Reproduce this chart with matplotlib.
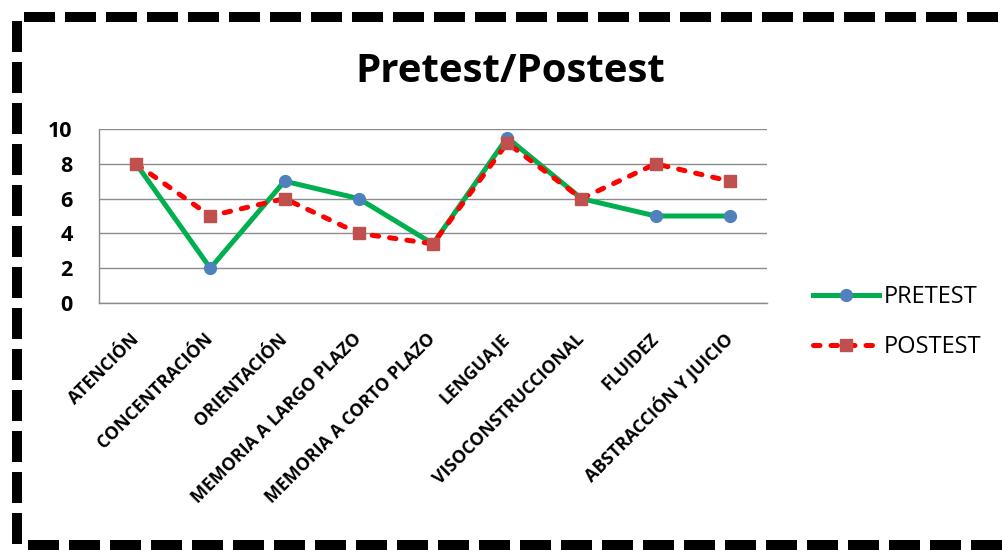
import matplotlib
matplotlib.use("Agg")
from matplotlib import pyplot as plt
from matplotlib.lines import Line2D

# scores per area
categories = [
    "ATENCIÓN",
    "CONCENTRACIÓN",
    "ORIENTACIÓN",
    "MEMORIA A LARGO PLAZO",
    "MEMORIA A CORTO PLAZO",
    "LENGUAJE",
    "VISOCONSTRUCCIONAL",
    "FLUIDEZ",
    "ABSTRACCIÓN Y JUICIO",
]
pretest = [8, 2, 7, 6, 3.4, 9.5, 6, 5, 5]
postest = [8, 5, 6, 4, 3.4, 9.2, 6, 8, 7]

W, H = 1002, 550
plt.rcParams["font.family"] = ["Open Sans", "DejaVu Sans"]

fig = plt.figure(figsize=(W / 100, H / 100), dpi=100)
fig.patch.set_facecolor("white")

# plot area in pixels: x 99..767, y 129..303
ax = fig.add_axes([99 / W, 1 - 303 / H, (767 - 99) / W, (303 - 129) / H])

x = list(range(len(categories)))
ax.plot(x, pretest, color="#00B050", lw=3.6, marker="o", ms=8.5,
        mfc="#4F81BD", mec="#4F81BD", label="PRETEST", zorder=3,
        solid_joinstyle="round")
ax.plot(x, postest, color="#FF0000", lw=3.6, marker="s", ms=8,
        mfc="#C0504D", mec="#C0504D", label="POSTEST", zorder=4,
        linestyle=(0, (1.3, 2.2)), dash_capstyle="round")

ax.set_xlim(-0.5, len(categories) - 0.5)
ax.set_ylim(0, 10)
ax.set_yticks([0, 2, 4, 6, 8, 10])
ax.yaxis.grid(True, color="#8c8c8c", lw=1.0)
ax.set_axisbelow(True)
for side in ["top", "right"]:
    ax.spines[side].set_visible(False)
for side in ["left", "bottom"]:
    ax.spines[side].set_color("#8c8c8c")
    ax.spines[side].set_linewidth(1.0)
ax.tick_params(axis="both", length=0)
ax.tick_params(axis="y", pad=19, labelsize=15.5)
for lab in ax.get_yticklabels():
    lab.set_fontweight("bold")

ax.set_xticks(x)
ax.set_xticklabels(categories, rotation=45, ha="right", va="center",
                   rotation_mode="anchor", fontsize=12.8, fontweight="bold")
ax.tick_params(axis="x", pad=24)

fig.text(510 / W, 1 - 71 / H, "Pretest/Postest", ha="center", va="center",
         fontsize=29, fontweight="bold")

leg = ax.legend(loc="center left", bbox_to_anchor=(792 / W, 1 - 322 / H),
                bbox_transform=fig.transFigure, frameon=False, fontsize=17,
                handlelength=2.8, labelspacing=1.1, handletextpad=0.2)

# dashed frame around the chart
def px(xp, yp):
    return xp / W, 1 - yp / H

frame_kw = dict(transform=fig.transFigure, color="black", lw=7.2,
                linestyle=(0, (3.1, 1.0)), solid_capstyle="butt",
                dash_capstyle="butt")
for (x0, y0), (x1, y1) in [((24, 17), (1010, 17)),
                           ((17, 21), (17, 560)),
                           ((28, 545), (1010, 545))]:
    (fx0, fy0), (fx1, fy1) = px(x0, y0), px(x1, y1)
    fig.add_artist(Line2D([fx0, fx1], [fy0, fy1], **frame_kw))

fig.savefig("out.png", dpi=100, facecolor="white")
